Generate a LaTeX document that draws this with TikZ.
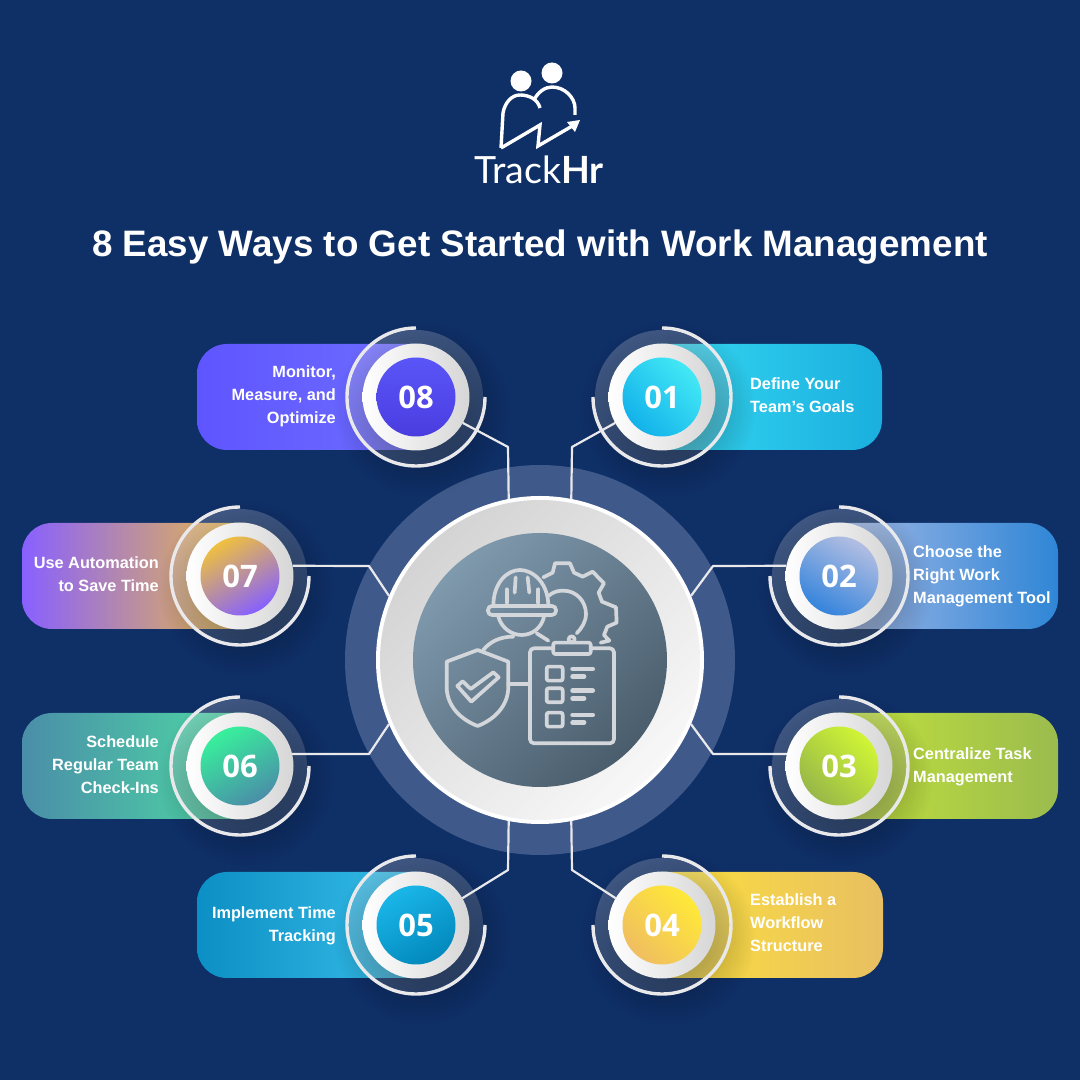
\documentclass[tikz,border=0pt]{standalone}
\usepackage{fontspec}
\setmainfont{Liberation Sans}
\newfontfamily\numfont{Open Sans}
\newfontfamily\logofont{Lato}
\usetikzlibrary{fadings}
\definecolor{navy}{HTML}{0F2F67}
\definecolor{halo}{HTML}{3F5A8A}
\definecolor{edge}{HTML}{E9E9EC}
\definecolor{iconline}{HTML}{D3D6DA}
\definecolor{hubA}{HTML}{7F99AD}
\definecolor{hubB}{HTML}{4A5D6C}
\definecolor{hubclip}{HTML}{62788A}
\tikzfading[name=softdisc, inner color=transparent!25, outer color=transparent!100]
\tikzset{
    badge/.style={circle,minimum size=107pt,inner sep=0pt,outer sep=0pt,left color=white,right color=black!16},
    disc/.style={circle,minimum size=79pt,inner sep=0pt,text=white,font=\numfont\bfseries\fontsize{31}{31}\selectfont},
    lbl/.style={font=\bfseries\fontsize{16.3}{23}\selectfont,text=white,inner sep=0pt},
    wire/.style={edge,line width=2.2pt,line join=round},
    icon/.style={iconline,line width=3.7pt,line cap=round,line join=round},
    logoline/.style={white,line width=3.4pt},
}
\begin{document}
\begin{tikzpicture}[x=1pt,y=1pt]
\useasboundingbox (0,0) rectangle (1080,1080);
\fill[navy](0,0) rectangle (1080,1080);

% logo
\fill[white](521,999) circle (10.5);
\fill[white](552,1007) circle (10.5);
\draw[logoline,line join=round](501,932)--(503,967) .. controls (505,978) and (512,985) .. (520,985)
    .. controls (530,985) and (538,980) .. (540,972);
\draw[logoline](534,980) .. controls (538,988) and (545,993) .. (552,993)
    .. controls (565,993) and (575,982) .. (575,972)--(575,965);
\draw[logoline,line join=miter](501,932)--(540,955)--(538,934)--(574,955);
\fill[white](580,960)--(567,958)--(575,948)--cycle;
\node[inner sep=0pt,anchor=base,text=white] (logotext) at (539,896)
    {\logofont\fontsize{37.5}{38}\selectfont Track\textbf{Hr}};

\node[inner sep=0pt,anchor=base,text=white,font=\bfseries\fontsize{36.8}{37}\selectfont] (title) at (540,823)
    {8 Easy Ways to Get Started with Work Management};

% hub
\fill[halo](540,420) circle (195);
\node[circle,minimum size=328pt,inner sep=0pt,outer sep=0pt,fill=white] (hub) at (540,420) {};
\shade[top color=black!17,bottom color=black!3,shading angle=45](540,420) circle (160);
\node[circle,minimum size=254pt,inner sep=0pt,top color=hubA,bottom color=hubB,shading angle=45] (hubdisc) at (540,420) {};

% icon in the hub
\begin{scope}[shift={(400,560)},x=.3333pt,y=-.3333pt]
\draw[icon](430,172)--(458,158)--(465,130)--(510,130)--(522,158)--(548,170)--(578,155)--(612,190)--(596,218)
    --(606,245)--(648,262)--(650,308)--(622,320)--(612,345)--(628,362)--(602,368);
\draw[icon](445,228) .. controls (460,215) and (475,212) .. (490,212) .. controls (530,212) and (558,245) .. (558,282)
    .. controls (558,305) and (545,325) .. (530,340);
\draw[icon](280,258) .. controls (280,190) and (320,150) .. (360,150) .. controls (400,150) and (445,190) .. (445,258);
\draw[icon,rounded corners=4pt](264,258) rectangle (468,285);
\draw[icon](320,208)--(320,248);
\draw[icon](347,172)--(344,218);
\draw[icon](383,172)--(388,218);
\draw[icon](415,208)--(415,248);
\draw[icon](295,290) .. controls (305,325) and (335,345) .. (365,345) .. controls (395,345) and (425,325) .. (432,290);
\draw[icon](250,390) .. controls (270,365) and (300,350) .. (340,350);
\draw[icon](410,340)--(445,362);
\draw[icon](325,492)--(388,492);
\draw[icon](233,390)--(325,425)--(325,500) .. controls (325,560) and (280,600) .. (233,618)
    .. controls (185,600) and (140,560) .. (140,500)--(140,425)--cycle;
\draw[icon](172,498)--(188,484)--(212,507)--(280,457)--(296,472)--(214,545)--cycle;
\draw[icon,rounded corners=4pt](390,385) rectangle (642,670);
\draw[icon,rounded corners=2pt,fill=hubclip](460,368) rectangle (572,402);
\draw[icon,fill=hubclip](515,358) circle (9);
\foreach \y in {440,505,578}
{
    \draw[icon,rounded corners=2pt](440,\y) rectangle (488,\y+42);
    \draw[icon,line width=4.8pt](518,\y+7)--(578,\y+7);
    \draw[icon,line width=4.8pt](518,\y+30)--(552,\y+30);
}
\end{scope}

% pills, badges and discs
\foreach \n/\cx/\cy/\near/\far/\pa/\pb/\pc/\da/\db/\dc/\ang/\pang in {
    01/662/683/632/882/3ADDF5/10BEF2/1AAFDE/43E8F5/1FC8F0/12B2EA/-45/90,
    02/839/504/809/1058/B0BEE8/6F96DC/2F86D6/B2BEE2/7E9EDC/3584DC/-30/90,
    03/839/314/809/1058/C8E83A/B4DA3A/9BBB4E/D0F535/B8DC3A/98B848/-45/90,
    04/662/155/632/883/FFE538/FFD015/E8BF62/FFE938/FFD018/F0BE60/-45/90,
    05/416/155/446/197/3DC4EE/02A9DA/0C8FC4/1AB6E8/02A9DA/0288BC/30/-90,
    06/240/314/270/22/4FE3A5/35C8A0/4A8EA8/38F09C/35B8A0/4A8EA8/30/-90,
    07/240/504/270/22/F6C530/C4A098/8860FF/EFC03F/C4A098/8660FF/30/-90,
    08/416/683/446/197/6F70FF/5A52FA/5F55FF/5A55F8/5248F0/4A3DE0/0/-90}
{
    \definecolor{pa}{HTML}{\pa}
    \definecolor{pb}{HTML}{\pb}
    \definecolor{pc}{HTML}{\pc}
    \definecolor{da}{HTML}{\da}
    \definecolor{db}{HTML}{\db}
    \definecolor{dc}{HTML}{\dc}
    \shade[rounded corners=30,top color=pa,middle color=pb,bottom color=pc,shading angle=\pang]
        (\near,\cy-53) rectangle (\far,\cy+53);
    \fill[black,opacity=.6,path fading=softdisc](\cx+6,\cy-12) circle (88);
    \shade[top color=white,bottom color=black!40,shading angle=30,opacity=.2](\cx,\cy) circle (67);
    \node[badge] (badge\n) at (\cx,\cy) {};
    \node[disc,top color=da,middle color=db,bottom color=dc,shading angle=\ang] (disc\n) at (\cx,\cy) {\n};
}

% arcs round the badges
\foreach \cx/\cy in {662/683,839/504,839/314,662/155}
{
    \draw[edge,line width=3.4pt](\cx,\cy+69) arc (90:-180:69);
}
\foreach \cx/\cy in {416/155,240/314,240/504,416/683}
{
    \draw[edge,line width=3.4pt](\cx,\cy+69) arc (90:360:69);
}

% connectors
\foreach \n/\ha/\bx/\by/\ba in {
    01/79/572/633/209,02/23/713/514/169,03/-23/713/326/167,04/-79/572/210/150,
    05/-101/508/210/30,06/203/369/326/13,07/157/369/514/11,08/101/508/633/-29}
{
    \coordinate (bend\n) at (\bx,\by);
    \draw[wire](hub.\ha)--(bend\n)--(badge\n.\ba);
}

\node[lbl,anchor=west,align=left] (lbl01) at (750,684.5) {Define Your\\Team's Goals};
\node[lbl,anchor=west,align=left] (lbl02) at (913,504) {Choose the\\Right Work\\Management Tool};
\node[lbl,anchor=west,align=left] (lbl03) at (913,313.5) {Centralize Task\\Management};
\node[lbl,anchor=west,align=left] (lbl04) at (750,157) {Establish a\\Workflow\\Structure};
\node[lbl,anchor=east,align=right] (lbl05) at (336,154.5) {Implement Time\\Tracking};
\node[lbl,anchor=east,align=right] (lbl06) at (159,315) {Schedule\\Regular Team\\Check-Ins};
\node[lbl,anchor=east,align=right] (lbl07) at (159,505.5) {Use Automation\\to Save Time};
\node[lbl,anchor=east,align=right] (lbl08) at (336,684) {Monitor,\\Measure, and\\Optimize};
\end{tikzpicture}
\end{document}
